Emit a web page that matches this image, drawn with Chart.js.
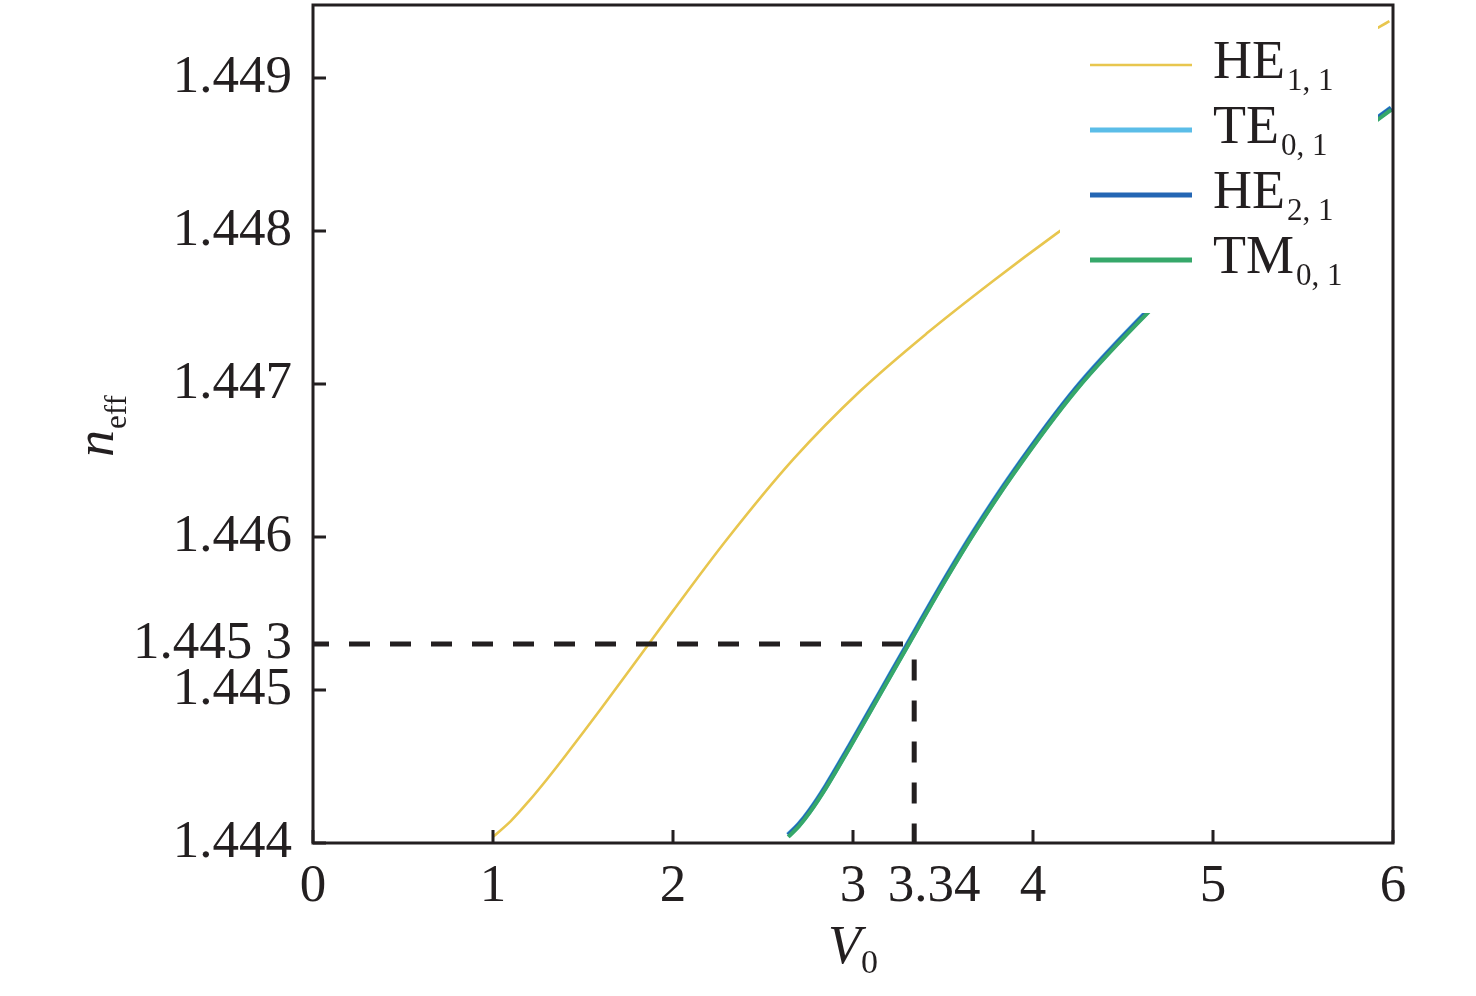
<!DOCTYPE html>
<html><head><meta charset="utf-8">
<script src="https://cdn.jsdelivr.net/npm/chart.js@4.4.1/dist/chart.umd.min.js"></script>
<style>html,body{margin:0;padding:0;background:#fff;}#wrap{width:1476px;height:996px;position:relative;}</style>
</head><body><div id="wrap"><canvas id="c"></canvas></div>
<script>
// ---- data ----
const xTickValues = [0, 1, 2, 3, 3.34, 4, 5, 6];
const xTickLabels = ['0', '1', '2', '3', '   3.34', '4', '5', '6'];
const xMarkedTicks = [0, 1, 2, 3, 4, 5, 6];
const yTickValues = [1.444, 1.445, 1.4453, 1.446, 1.447, 1.448, 1.449];
const yTickLabels = ['1.444', '1.445', '1.445 3', '1.446', '1.447', '1.448', '1.449'];
const yMarkedTicks = [1.444, 1.445, 1.446, 1.447, 1.448, 1.449];

const he11V = [1.00, 1.10, 1.20, 1.30, 1.40, 1.60, 1.86, 2.00, 2.30, 2.67, 3.04, 3.41, 3.78, 4.13, 4.50, 5.00, 5.50, 5.92, 5.98];
const he11N = [1.444040, 1.444145, 1.444275, 1.444417, 1.444567, 1.444877, 1.445293, 1.445517, 1.445985, 1.446510, 1.446954, 1.447331, 1.447675, 1.447983, 1.448290, 1.448680, 1.449045, 1.449331, 1.449371];

const modeV = [2.64, 2.70, 2.76, 2.85, 2.98, 3.15, 3.30, 3.52, 3.67, 3.89, 4.24, 4.65, 5.00, 5.50, 5.93, 5.99];
const te01N = [1.444052, 1.444122, 1.444212, 1.444372, 1.444632, 1.444982, 1.445292, 1.445742, 1.446032, 1.446422, 1.446972, 1.447492, 1.447884, 1.448374, 1.448752, 1.448804];
const he21N = [1.444052, 1.444122, 1.444212, 1.444372, 1.444632, 1.444982, 1.445292, 1.445742, 1.446032, 1.446422, 1.446972, 1.447492, 1.447884, 1.448374, 1.448752, 1.448804];
const tm01N = [1.444040, 1.444110, 1.444200, 1.444360, 1.444620, 1.444970, 1.445280, 1.445730, 1.446020, 1.446410, 1.446960, 1.447480, 1.447872, 1.448362, 1.448740, 1.448792];

const guideHV = [0, 3.29];
const guideHN = [1.4453, 1.4453];
const guideVV = [3.34, 3.34];
const guideVN = [1.44520, 1.444];

const legendMain = ['HE', 'TE', 'HE', 'TM'];
const legendSub = ['1, 1', '0, 1', '2, 1', '0, 1'];
const seriesColors = ['#E8C64E', '#5BBDE8', '#2466B4', '#36A86A'];

// ---- helpers ----
const ink = '#231f20';
const serif = '"Liberation Serif", "Times New Roman", serif';
const pts = (xs, ys) => xs.map((v, i) => ({x: v, y: ys[i]}));
const noPad = s => { s.paddingTop = 0; s.paddingBottom = 0; s.paddingLeft = 0; s.paddingRight = 0; };

const overlay = {
  id: 'overlay',
  afterDraw(chart) {
    const {ctx, chartArea: ca, scales: {x, y}} = chart;
    ctx.save();
    // legend background
    ctx.fillStyle = '#fff';
    ctx.fillRect(ca.right - 333, ca.top, 318, 308);
    // legend entries
    const widths = [2.5, 5, 5, 5];
    for (let i = 0; i < legendMain.length; i++) {
      const ly = ca.top + 60 + i * 65;
      const lx0 = ca.right - 303, lx1 = ca.right - 201;
      ctx.strokeStyle = seriesColors[i];
      ctx.lineWidth = widths[i];
      ctx.beginPath(); ctx.moveTo(lx0, ly); ctx.lineTo(lx1, ly); ctx.stroke();
      ctx.fillStyle = ink;
      ctx.textBaseline = 'alphabetic';
      ctx.textAlign = 'left';
      ctx.font = '54px ' + serif;
      const tx = ca.right - 180;
      ctx.fillText(legendMain[i], tx, ly + 13);
      const w = ctx.measureText(legendMain[i]).width;
      ctx.font = '31px ' + serif;
      ctx.fillText(legendSub[i], tx + w + 2, ly + 25);
    }
    // frame
    ctx.strokeStyle = ink;
    ctx.lineWidth = 3;
    ctx.strokeRect(ca.left, ca.top, ca.right - ca.left, ca.bottom - ca.top);
    // inward ticks
    ctx.beginPath();
    xMarkedTicks.forEach(v => { const px = x.getPixelForValue(v); ctx.moveTo(px, ca.bottom); ctx.lineTo(px, ca.bottom - 13); });
    yMarkedTicks.forEach(v => { const py = y.getPixelForValue(v); ctx.moveTo(ca.left, py); ctx.lineTo(ca.left + 13, py); });
    ctx.stroke();
    // x title V0
    ctx.fillStyle = ink;
    ctx.textAlign = 'left';
    ctx.textBaseline = 'alphabetic';
    ctx.font = 'italic 54px ' + serif;
    ctx.fillText('V', 828, 963);
    ctx.font = '34px ' + serif;
    ctx.fillText('0', 861, 973);
    // y title n_eff
    ctx.save();
    ctx.translate(113, 457);
    ctx.rotate(-Math.PI / 2);
    ctx.font = 'italic 54px ' + serif;
    ctx.fillText('n', 0, 0);
    const nw = ctx.measureText('n').width;
    ctx.font = '31px ' + serif;
    ctx.fillText('eff', nw + 1, 13);
    ctx.restore();
    ctx.restore();
  }
};

new Chart(document.getElementById('c'), {
  type: 'line',
  data: {
    datasets: [
      {label: 'guideH', data: pts(guideHV, guideHN), borderColor: ink, borderWidth: 5, borderDash: [21, 20], borderDashOffset: 5, order: -2},
      {label: 'guideV', data: pts(guideVV, guideVN), borderColor: ink, borderWidth: 5, borderDash: [21, 20], order: -1},
      {label: 'TM0,1', data: pts(modeV, tm01N), borderColor: seriesColors[3], borderWidth: 4, cubicInterpolationMode: 'monotone', order: 0},
      {label: 'HE2,1', data: pts(modeV, he21N), borderColor: seriesColors[2], borderWidth: 4.5, cubicInterpolationMode: 'monotone', order: 1},
      {label: 'TE0,1', data: pts(modeV, te01N), borderColor: seriesColors[1], borderWidth: 5.5, cubicInterpolationMode: 'monotone', order: 2},
      {label: 'HE1,1', data: pts(he11V, he11N), borderColor: seriesColors[0], borderWidth: 2.6, cubicInterpolationMode: 'monotone', order: 3}
    ]
  },
  options: {
    responsive: true,
    maintainAspectRatio: false,
    animation: false,
    layout: {padding: {top: 5, right: 83, left: 0, bottom: 0}},
    elements: {point: {radius: 0, hoverRadius: 0}},
    plugins: {legend: {display: false}, tooltip: {enabled: false}},
    scales: {
      x: {
        type: 'linear', min: 0, max: 6,
        afterBuildTicks: s => { s.ticks = xTickValues.map(v => ({value: v})); },
        afterFit: s => { s.height = 153; noPad(s); },
        grid: {display: false, drawTicks: false},
        border: {display: false},
        ticks: {autoSkip: false, maxRotation: 0, padding: 12, color: ink,
          font: {family: serif, size: 53},
          callback: v => xTickLabels[xTickValues.indexOf(v)]}
      },
      y: {
        type: 'linear', min: 1.444, max: 1.449477,
        afterBuildTicks: s => { s.ticks = yTickValues.map(v => ({value: v})); },
        afterFit: s => { s.width = 313; noPad(s); },
        grid: {display: false, drawTicks: false},
        border: {display: false},
        ticks: {autoSkip: false, padding: 21, color: ink,
          font: {family: serif, size: 53},
          callback: v => yTickLabels[yTickValues.indexOf(v)]}
      }
    }
  },
  plugins: [overlay]
});
</script>
</body></html>
